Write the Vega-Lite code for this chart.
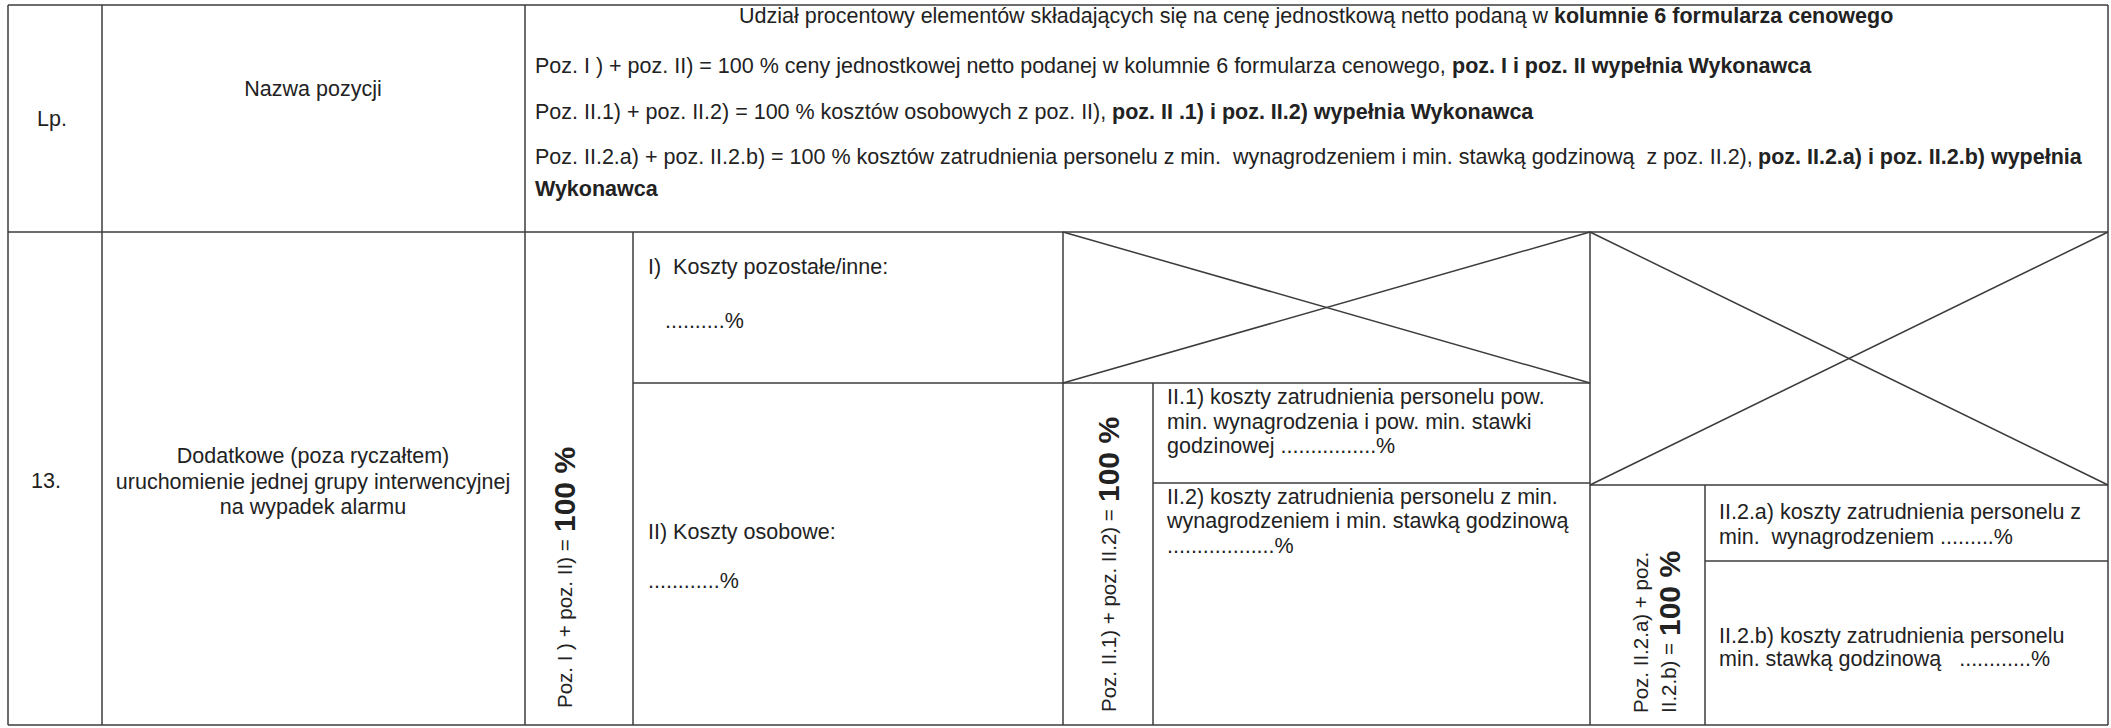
{
  "$schema": "https://vega.github.io/schema/vega-lite/v6.json",
  "width": 2111,
  "height": 728,
  "autosize": {"type": "fit", "contains": "padding"},
  "padding": 0,
  "background": "white",
  "config": {"view": {"stroke": null}},
  "datasets": {
    "lines": [
      {"x": 8, "y": 5, "x2": 2108, "y2": 5},
      {"x": 8, "y": 725, "x2": 2108, "y2": 725},
      {"x": 8, "y": 5, "x2": 8, "y2": 725},
      {"x": 2108, "y": 5, "x2": 2108, "y2": 725},
      {"x": 8, "y": 232, "x2": 2108, "y2": 232},
      {"x": 102, "y": 5, "x2": 102, "y2": 725},
      {"x": 525, "y": 5, "x2": 525, "y2": 725},
      {"x": 633, "y": 232, "x2": 633, "y2": 725},
      {"x": 1063, "y": 232, "x2": 1063, "y2": 725},
      {"x": 1153, "y": 383, "x2": 1153, "y2": 725},
      {"x": 1590, "y": 232, "x2": 1590, "y2": 725},
      {"x": 1705, "y": 485, "x2": 1705, "y2": 725},
      {"x": 633, "y": 383, "x2": 1590, "y2": 383},
      {"x": 1153, "y": 483, "x2": 1590, "y2": 483},
      {"x": 1590, "y": 485, "x2": 2108, "y2": 485},
      {"x": 1705, "y": 561, "x2": 2108, "y2": 561},
      {"x": 1063, "y": 232, "x2": 1590, "y2": 383},
      {"x": 1063, "y": 383, "x2": 1590, "y2": 232},
      {"x": 1590, "y": 232, "x2": 2108, "y2": 485},
      {"x": 1590, "y": 485, "x2": 2108, "y2": 232}
    ],
    "plain": [
      {"x": 739, "y": 17, "text": "Udział procentowy elementów składających się na cenę jednostkową netto podaną w"},
      {"x": 535, "y": 67, "text": "Poz. I ) + poz. II) = 100 % ceny jednostkowej netto podanej w kolumnie 6 formularza cenowego,"},
      {"x": 535, "y": 113, "text": "Poz. II.1) + poz. II.2) = 100 % kosztów osobowych z poz. II),"},
      {"x": 535, "y": 158, "text": "Poz. II.2.a) + poz. II.2.b) = 100 % kosztów zatrudnienia personelu z min.\u00a0 wynagrodzeniem i min. stawką godzinową\u00a0 z poz. II.2),"},
      {"x": 648, "y": 268, "text": "I)\u00a0 Koszty pozostałe/inne:"},
      {"x": 665, "y": 322, "text": "..........%"},
      {"x": 648, "y": 533, "text": "II) Koszty osobowe:"},
      {"x": 648, "y": 582, "text": "............%"},
      {"x": 1167, "y": 398, "text": "II.1) koszty zatrudnienia personelu pow."},
      {"x": 1167, "y": 423, "text": "min. wynagrodzenia i pow. min. stawki"},
      {"x": 1167, "y": 447, "text": "godzinowej ................%"},
      {"x": 1167, "y": 498, "text": "II.2) koszty zatrudnienia personelu z min."},
      {"x": 1167, "y": 522, "text": "wynagrodzeniem i min. stawką godzinową"},
      {"x": 1167, "y": 547, "text": "..................%"},
      {"x": 1719, "y": 513, "text": "II.2.a) koszty zatrudnienia personelu z"},
      {"x": 1719, "y": 538, "text": "min.\u00a0 wynagrodzeniem .........%"},
      {"x": 1719, "y": 637, "text": "II.2.b) koszty zatrudnienia personelu"},
      {"x": 1719, "y": 660, "text": "min. stawką godzinową\u00a0\u00a0 ............%"}
    ],
    "centered": [
      {"x": 52, "y": 120, "text": "Lp."},
      {"x": 313, "y": 90, "text": "Nazwa pozycji"},
      {"x": 46, "y": 482, "text": "13."},
      {"x": 313, "y": 457, "text": "Dodatkowe (poza ryczałtem)"},
      {"x": 313, "y": 483, "text": "uruchomienie jednej grupy interwencyjnej"},
      {"x": 313, "y": 508, "text": "na wypadek alarmu"}
    ],
    "emphasis": [
      {"x": 1554, "y": 17, "text": "kolumnie 6 formularza cenowego"},
      {"x": 1452, "y": 67, "text": "poz. I i poz. II wypełnia Wykonawca"},
      {"x": 1112, "y": 113, "text": "poz. II .1) i poz. II.2) wypełnia Wykonawca"},
      {"x": 1758, "y": 158, "text": "poz. II.2.a) i poz. II.2.b) wypełnia"},
      {"x": 535, "y": 190, "text": "Wykonawca"}
    ],
    "vertical": [
      {"x": 566, "y": 708, "text": "Poz. I ) + poz. II) ="},
      {"x": 1110, "y": 712, "text": "Poz. II.1) + poz. II.2) ="},
      {"x": 1642, "y": 713, "text": "Poz. II.2.a) + poz."},
      {"x": 1670, "y": 713, "text": "II.2.b) ="}
    ],
    "vertical_total": [
      {"x": 566, "y": 532, "text": "100 %"},
      {"x": 1110, "y": 502, "text": "100 %"},
      {"x": 1671, "y": 636, "text": "100 %"}
    ]
  },
  "layer": [
    {
      "data": {"name": "lines"},
      "mark": {"type": "rule", "stroke": "#3c3c3c", "strokeWidth": 1.5},
      "encoding": {
        "x": {"field": "x", "type": "quantitative", "scale": {"domain": [0, 2111], "nice": false, "zero": false}, "axis": null},
        "y": {"field": "y", "type": "quantitative", "scale": {"domain": [0, 728], "nice": false, "zero": false, "reverse": true}, "axis": null},
        "x2": {"field": "x2"},
        "y2": {"field": "y2"}
      }
    },
    {
      "data": {"name": "plain"},
      "mark": {"type": "text", "align": "left", "baseline": "middle", "font": "Liberation Sans", "fontSize": 21.5, "color": "#222222"},
      "encoding": {
        "x": {"field": "x", "type": "quantitative"},
        "y": {"field": "y", "type": "quantitative"},
        "text": {"field": "text"}
      }
    },
    {
      "data": {"name": "centered"},
      "mark": {"type": "text", "align": "center", "baseline": "middle", "font": "Liberation Sans", "fontSize": 21.5, "color": "#222222"},
      "encoding": {
        "x": {"field": "x", "type": "quantitative"},
        "y": {"field": "y", "type": "quantitative"},
        "text": {"field": "text"}
      }
    },
    {
      "data": {"name": "emphasis"},
      "mark": {"type": "text", "align": "left", "baseline": "middle", "font": "Liberation Sans", "fontWeight": "bold", "fontSize": 21.5, "color": "#222222"},
      "encoding": {
        "x": {"field": "x", "type": "quantitative"},
        "y": {"field": "y", "type": "quantitative"},
        "text": {"field": "text"}
      }
    },
    {
      "data": {"name": "vertical"},
      "mark": {"type": "text", "align": "left", "baseline": "middle", "angle": 270, "font": "Liberation Sans", "fontSize": 20.5, "color": "#222222"},
      "encoding": {
        "x": {"field": "x", "type": "quantitative"},
        "y": {"field": "y", "type": "quantitative"},
        "text": {"field": "text"}
      }
    },
    {
      "data": {"name": "vertical_total"},
      "mark": {"type": "text", "align": "left", "baseline": "middle", "angle": 270, "font": "Liberation Sans", "fontWeight": "bold", "fontSize": 30, "color": "#222222"},
      "encoding": {
        "x": {"field": "x", "type": "quantitative"},
        "y": {"field": "y", "type": "quantitative"},
        "text": {"field": "text"}
      }
    }
  ]
}
